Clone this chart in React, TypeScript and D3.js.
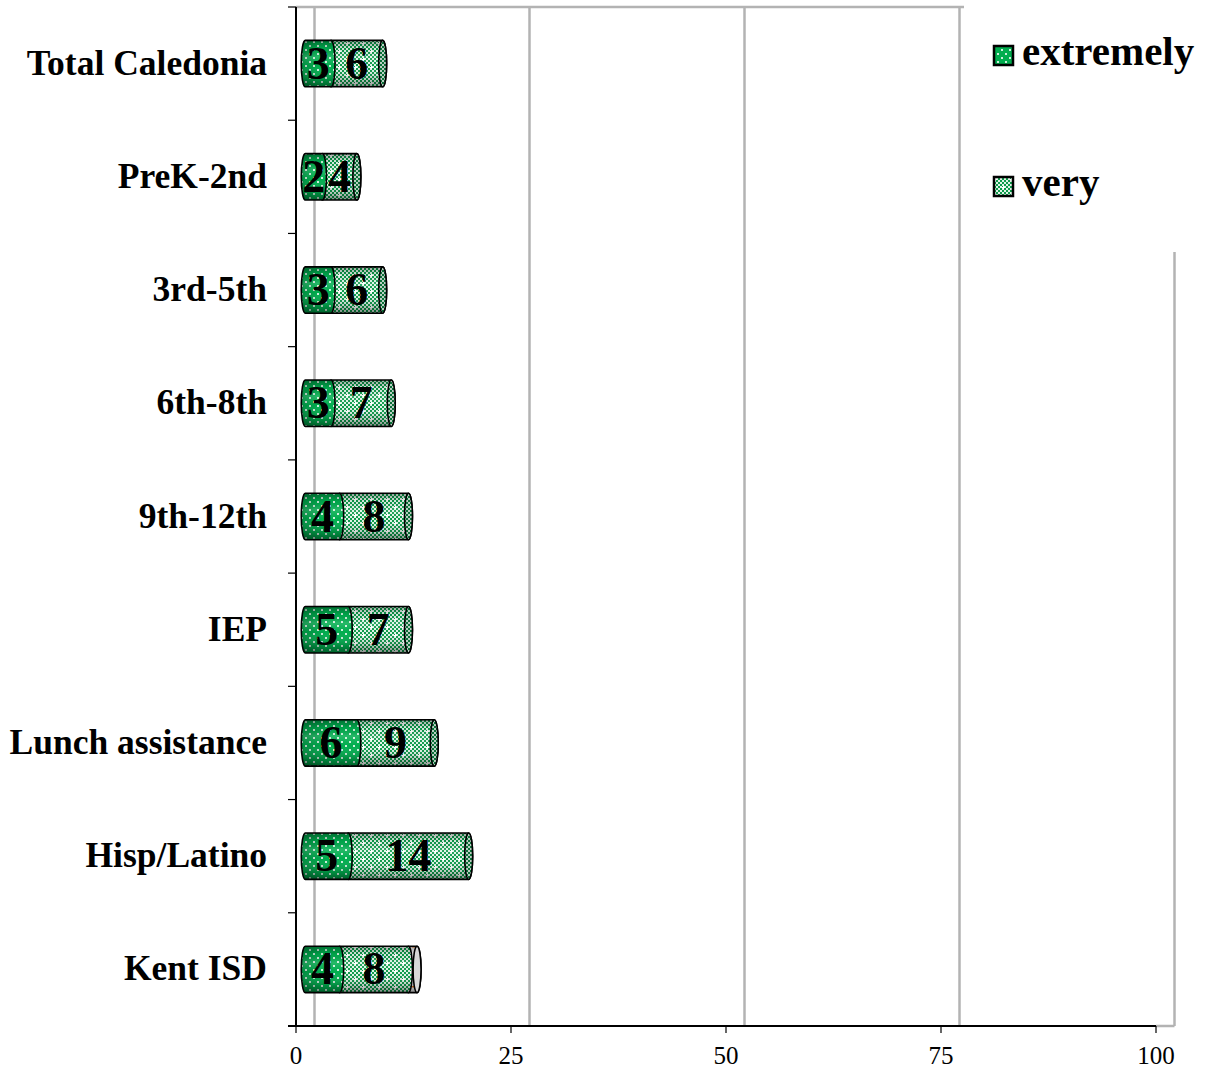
import React from "react";
import * as d3 from "d3";

const categories = [
  "Total Caledonia",
  "PreK-2nd",
  "3rd-5th",
  "6th-8th",
  "9th-12th",
  "IEP",
  "Lunch assistance",
  "Hisp/Latino",
  "Kent ISD",
];
const extremely = [3, 2, 3, 3, 4, 5, 6, 5, 4];
const very = [6, 4, 6, 7, 8, 7, 9, 14, 8];
const other = [0, 0, 0, 0, 0, 0, 0, 0, 1];
const xTicks = [0, 25, 50, 75, 100];
const seriesNames = ["extremely", "very"];

const W = 1207;
const H = 1070;
const FONT = "'Liberation Serif', 'Times New Roman', serif";

export default function App() {
  const x = d3.scaleLinear().domain([0, 100]).range([296, 1156]);
  const y = d3.scaleBand().domain(categories).range([7, 1026]).padding(0);
  const depth = 18.5;
  const half = depth / 2;
  const barH = y.bandwidth() * 0.41;
  const rx = 4;
  const ry = barH / 2;

  const segPath = (x0: number, x1: number, top: number, bot: number) =>
    `M${x0},${top} L${x1},${top} A${rx},${ry} 0 0 1 ${x1},${bot} L${x0},${bot} A${rx},${ry} 0 0 1 ${x0},${top} Z`;

  const fills = ["url(#patExt)", "url(#patVery)", "url(#patOther)"];
  const capFills = ["url(#patExtCap)", "url(#patVeryCap)", "url(#patOtherCap)"];

  const bars = categories.map((c, i) => {
    const vals = [extremely[i], very[i], other[i]];
    const segs: { k: number; v: number; x0: number; x1: number }[] = [];
    let acc = 0;
    vals.forEach((v, k) => {
      if (v > 0) {
        segs.push({ k, v, x0: x(acc) + half, x1: x(acc + v) + half });
      }
      acc += v;
    });
    const cy = (y(c) as number) + y.bandwidth() / 2;
    const top = cy - ry;
    const bot = cy + ry;
    const last = segs[segs.length - 1];
    const drawOrder = [...segs].reverse();
    return (
      <g key={c}>
        {drawOrder.map((s) => (
          <g key={s.k}>
            <path d={segPath(s.x0, s.x1, top, bot)} fill={fills[s.k]} />
            <path d={segPath(s.x0, s.x1, top, bot)} fill="url(#shade)" />
            {s.k === 0 && <path d={segPath(s.x0, s.x1, top, bot)} fill="url(#shadeH)" />}
            <path
              d={segPath(s.x0, s.x1, top, bot)}
              fill="none"
              stroke="#000"
              strokeWidth={1.6}
            />
            {s === last && (
              <ellipse
                cx={s.x1}
                cy={cy}
                rx={rx}
                ry={ry}
                fill={capFills[s.k]}
                stroke="#000"
                strokeWidth={1.6}
              />
            )}
          </g>
        ))}
        {segs
          .filter((s) => s.k < 2)
          .map((s) => (
            <text
              key={"t" + s.k}
              x={(s.x0 + s.x1) / 2}
              y={cy + 15}
              textAnchor="middle"
              fontFamily={FONT}
              fontWeight="bold"
              fontSize={46}
              fill="#000"
            >
              {s.v}
            </text>
          ))}
      </g>
    );
  });

  return (
    <svg width={W} height={H} style={{ display: "block", position: "absolute", left: 0, top: 0 }}>
      <defs>
        <pattern id="patExt" width="8" height="8" patternUnits="userSpaceOnUse">
          <rect width="8" height="8" fill="#00ad4e" />
          <rect x="1" y="1" width="2" height="2" fill="#ffffff" opacity="0.8" />
          <rect x="5" y="5" width="2" height="2" fill="#ffffff" opacity="0.8" />
        </pattern>
        <pattern id="patExtCap" width="8" height="8" patternUnits="userSpaceOnUse">
          <rect width="8" height="8" fill="#00803a" />
          <rect x="1" y="1" width="2" height="2" fill="#ffffff" opacity="0.6" />
        </pattern>
        <pattern id="patVery" width="16" height="16" patternUnits="userSpaceOnUse">
          <rect width="16" height="16" fill="#dff3e6" />
          {d3.range(8).map((r) =>
            d3.range(8).map((q) =>
              (r + q) % 2 === 0 ? (
                <rect key={r + "-" + q} x={q * 2} y={r * 2} width="2" height="2" fill="#0c9a4a" />
              ) : null
            )
          )}
          <rect x="3" y="2" width="1" height="3" fill="#ffffff" />
          <rect x="2" y="3" width="3" height="1" fill="#ffffff" />
          <rect x="11" y="10" width="1" height="3" fill="#ffffff" />
          <rect x="10" y="11" width="3" height="1" fill="#ffffff" />
        </pattern>
        <pattern id="patVeryCap" width="4" height="4" patternUnits="userSpaceOnUse">
          <rect width="4" height="4" fill="#b9cfc1" />
          <rect x="0" y="0" width="2" height="2" fill="#0a7038" />
          <rect x="2" y="2" width="2" height="2" fill="#0a7038" />
        </pattern>
        <pattern id="patOther" width="10" height="20" patternUnits="userSpaceOnUse">
          <rect width="10" height="20" fill="#f4f4f4" />
          <rect x="2" y="6" width="5" height="1.5" fill="#f07820" />
        </pattern>
        <pattern id="patOtherCap" width="10" height="20" patternUnits="userSpaceOnUse">
          <rect width="10" height="20" fill="#d8d8d8" />
          <rect x="3" y="8" width="1" height="3" fill="#f07820" />
        </pattern>
        <linearGradient id="shade" x1="0" y1="0" x2="0" y2="1">
          <stop offset="0" stopColor="#000" stopOpacity="0.35" />
          <stop offset="0.18" stopColor="#000" stopOpacity="0.05" />
          <stop offset="0.35" stopColor="#fff" stopOpacity="0.15" />
          <stop offset="0.55" stopColor="#fff" stopOpacity="0.0" />
          <stop offset="0.85" stopColor="#000" stopOpacity="0.2" />
          <stop offset="1" stopColor="#000" stopOpacity="0.45" />
        </linearGradient>
        <linearGradient id="shadeH" x1="0" y1="0" x2="1" y2="0">
          <stop offset="0" stopColor="#000" stopOpacity="0.2" />
          <stop offset="0.5" stopColor="#000" stopOpacity="0" />
        </linearGradient>
      </defs>

      {/* back walls and gridlines */}
      <line x1={296} x2={x(100) + depth} y1={7} y2={7} stroke="#b3b3b3" strokeWidth={2.5} />
      {xTicks.map((t) => (
        <line
          key={"g" + t}
          x1={x(t) + depth}
          x2={x(t) + depth}
          y1={7}
          y2={1026}
          stroke="#b3b3b3"
          strokeWidth={2.5}
        />
      ))}
      <line x1={x(100)} x2={x(100) + depth} y1={1026} y2={1026} stroke="#b3b3b3" strokeWidth={2.5} />

      {bars}

      {/* axes */}
      <line x1={296} x2={296} y1={7} y2={1027} stroke="#000" strokeWidth={2} />
      {d3.range(categories.length + 1).map((i) => {
        const yy = 7 + i * y.bandwidth();
        return <line key={"yt" + i} x1={288} x2={296} y1={yy} y2={yy} stroke="#000" strokeWidth={1.2} />;
      })}
      <line x1={288} x2={x(100)} y1={1026} y2={1026} stroke="#000" strokeWidth={2} />
      {xTicks.map((t) => (
        <g key={"xt" + t}>
          <line x1={x(t)} x2={x(t)} y1={1026} y2={1033} stroke="#000" strokeWidth={1.2} />
          <text
            x={x(t)}
            y={1064}
            textAnchor="middle"
            fontFamily={FONT}
            fontSize={25}
            fill="#000"
          >
            {t}
          </text>
        </g>
      ))}
      {categories.map((c) => (
        <text
          key={"c" + c}
          x={267}
          y={(y(c) as number) + y.bandwidth() / 2 + 11}
          textAnchor="end"
          fontFamily={FONT}
          fontWeight="bold"
          fontSize={35.5}
          fill="#000"
        >
          {c}
        </text>
      ))}

      {/* legend */}
      <rect x={964} y={0} width={W - 964} height={252} fill="#fff" />
      {seriesNames.map((n, i) => {
        const by = i === 0 ? 65 : 196;
        return (
          <g key={n}>
            <rect
              x={994}
              y={by - 19}
              width={19}
              height={19}
              fill={i === 0 ? "url(#patExt)" : "url(#patVery)"}
              stroke="#000"
              strokeWidth={2.5}
            />
            <text
              x={1022}
              y={by}
              fontFamily={FONT}
              fontWeight="bold"
              fontSize={41}
              fill="#000"
            >
              {n}
            </text>
          </g>
        );
      })}
    </svg>
  );
}
